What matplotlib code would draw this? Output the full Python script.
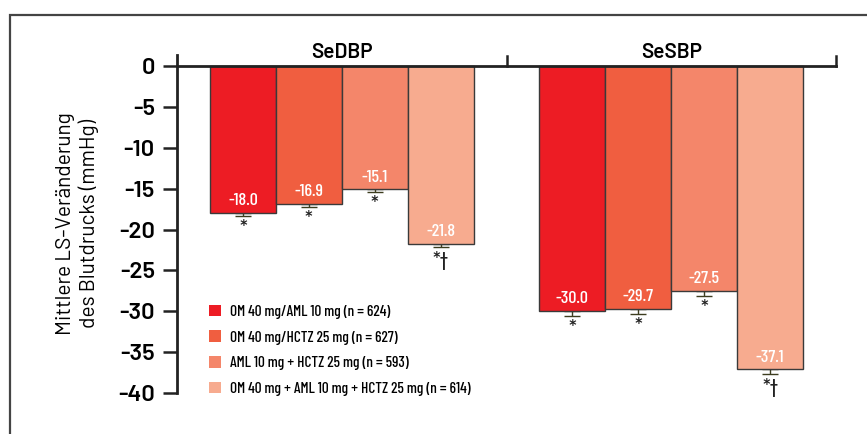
import matplotlib.pyplot as plt
from matplotlib.patches import Patch, Rectangle

groups = ['SeDBP', 'SeSBP']
treatments = ['OM 40 mg/AML 10 mg (n = 624)',
              'OM 40 mg/HCTZ 25 mg (n = 627)',
              'AML 10 mg + HCTZ 25 mg (n = 593)',
              'OM 40 mg + AML 10 mg + HCTZ 25 mg (n = 614)']
sedbp = [-18.0, -16.9, -15.1, -21.8]
sesbp = [-30.0, -29.7, -27.5, -37.1]
sedbp_err = [0.35, 0.35, 0.35, 0.3]
sesbp_err = [0.6, 0.6, 0.6, 0.6]
marks = ['*', '*', '*', '*\u2020']
colors = ['#ED1C24', '#F05E40', '#F4866A', '#F7AB8F']

plt.rcParams['axes.unicode_minus'] = False
plt.rcParams['font.family'] = ['Barlow', 'DejaVu Sans']
plt.rcParams['font.weight'] = 'medium'
narrow = ['Barlow Condensed', 'DejaVu Sans']

fig = plt.figure(figsize=(8.67, 4.34), dpi=100)
ax = fig.add_axes([177/867, 41/434, 659/867, 338/434])

# outer frame (only top and left visible)
fig.patches.append(Rectangle((10/867, -0.1), 1.2, (434-15)/434 + 0.1,
                             transform=fig.transFigure, fill=False,
                             edgecolor='#444444', lw=1.6))

for g, (vals, errs) in enumerate([(sedbp, sedbp_err), (sesbp, sesbp_err)]):
    xs = [1 + 5*g + i for i in range(4)]
    ax.bar(xs, vals, width=1.0, color=colors, edgecolor='#3a3a3a', lw=1.0, zorder=2)
    ax.errorbar(xs, vals, yerr=[errs, [0]*4], fmt='none', ecolor='#3d3d1f',
                elinewidth=1, capsize=6, capthick=1, zorder=1)
    for x, v, e, m in zip(xs, vals, errs, marks):
        ax.text(x, v + 1.5, f'{v:.1f}', color='white', ha='center', va='center',
                fontsize=13, family=narrow, zorder=3)
        ax.text(x, v - e - 0.5, m, color='#222222', ha='center', va='top',
                fontsize=14, zorder=3)
    ax.text(2.5 + 5*g, 1.7, groups[g], ha='center', va='center', fontsize=15,
            weight='semibold')

# top baseline with upward ticks
ax.plot([0, 10], [0, 0], color='#222222', lw=2, clip_on=False, zorder=4)
for xt in [5, 10]:
    ax.plot([xt, xt], [0, 1.25], color='#222222', lw=1.8, clip_on=False)

ax.set_xlim(0, 10)
ax.set_ylim(-40, 1.35)
ax.set_yticks(range(0, -41, -5))
ax.set_yticklabels([str(t) for t in range(0, -41, -5)], weight='semibold')
ax.set_xticks([])
for s in ['top', 'right', 'bottom']:
    ax.spines[s].set_visible(False)
ax.spines['left'].set_linewidth(2)
ax.spines['left'].set_color('#222222')
ax.tick_params(axis='y', length=10, width=1.8, labelsize=17, pad=6, color='#222222')
ax.set_ylabel('Mittlere LS-Veränderung\ndes Blutdrucks (mmHg)', fontsize=15, labelpad=14)

handles = [Patch(facecolor=c, edgecolor='none') for c in colors]
fig.legend(handles, treatments, loc='upper left', bbox_to_anchor=(195/867, 1 - 291/434),
           frameon=False, handlelength=0.8, handleheight=0.8, handletextpad=0.6,
           labelspacing=0.75, prop={'family': narrow, 'size': 11, 'weight': 'medium'})

fig.savefig('out.png', dpi=100)
